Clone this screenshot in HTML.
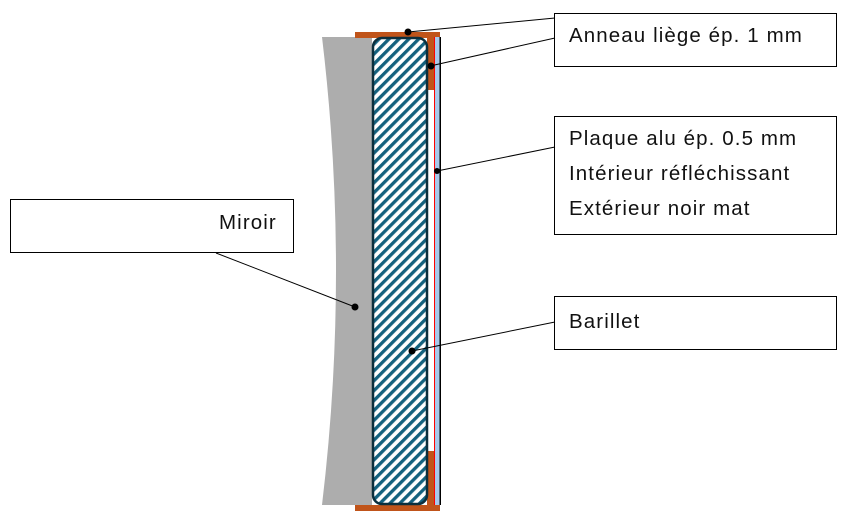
<!DOCTYPE html>
<html><head><meta charset="utf-8"><style>
html,body{margin:0;padding:0;background:#fff;}
svg{display:block;}
text{font-family:"Liberation Sans",sans-serif;font-size:20.5px;letter-spacing:1.1px;fill:#111;}
</style></head><body>
<svg width="859" height="524" viewBox="0 0 859 524" xmlns="http://www.w3.org/2000/svg">
<defs>
<pattern id="h" patternUnits="userSpaceOnUse" width="7" height="7" patternTransform="rotate(45)">
<rect width="7" height="7" fill="#fff"/>
<rect width="3.3" height="7" fill="#14617e"/>
</pattern>
</defs>
<path d="M322,37 L372,37 L372,505 L322,505 Q350,271 322,37 Z" fill="#adadad"/>
<rect x="355" y="32" width="85" height="6" fill="#c0541a"/>
<rect x="355" y="505" width="85" height="6" fill="#c0541a"/>
<rect x="427" y="37" width="7" height="53" fill="#c0541a"/>
<rect x="427" y="451" width="7" height="54" fill="#c0541a"/>
<rect x="434" y="37" width="1.2" height="468" fill="#f00"/>
<rect x="435" y="37" width="5" height="468" fill="#a8c8ea"/>
<rect x="439.5" y="37" width="1.5" height="468" fill="#000"/>
<rect x="373" y="38" width="54" height="466" rx="9" fill="url(#h)" stroke="#0c2f3d" stroke-width="2.5"/>
<g fill="#fff" stroke="#000" stroke-width="1">
<rect x="554.5" y="13.5" width="282" height="53"/>
<rect x="554.5" y="116.5" width="282" height="118"/>
<rect x="10.5" y="199.5" width="283" height="53"/>
<rect x="554.5" y="296.5" width="282" height="53"/>
</g>
<text x="569" y="42">Anneau liège ép. 1 mm</text>
<text x="569" y="145">Plaque alu ép. 0.5 mm</text>
<text x="569" y="180">Intérieur réfléchissant</text>
<text x="569" y="215">Extérieur noir mat</text>
<text x="219" y="229">Miroir</text>
<text x="569" y="328">Barillet</text>
<g stroke="#000" stroke-width="1">
<line x1="408" y1="32" x2="555" y2="18"/>
<line x1="430" y1="66" x2="555" y2="38"/>
<line x1="437" y1="171" x2="555" y2="147"/>
<line x1="355" y1="307" x2="216" y2="253"/>
<line x1="412" y1="351" x2="555" y2="322"/>
</g>
<g fill="#000">
<circle cx="408" cy="32" r="3.5"/>
<circle cx="431" cy="66" r="3.5"/>
<circle cx="437" cy="171" r="3"/>
<circle cx="355" cy="307" r="3.5"/>
<circle cx="412" cy="351" r="3.5"/>
</g>
</svg>
</body></html>
